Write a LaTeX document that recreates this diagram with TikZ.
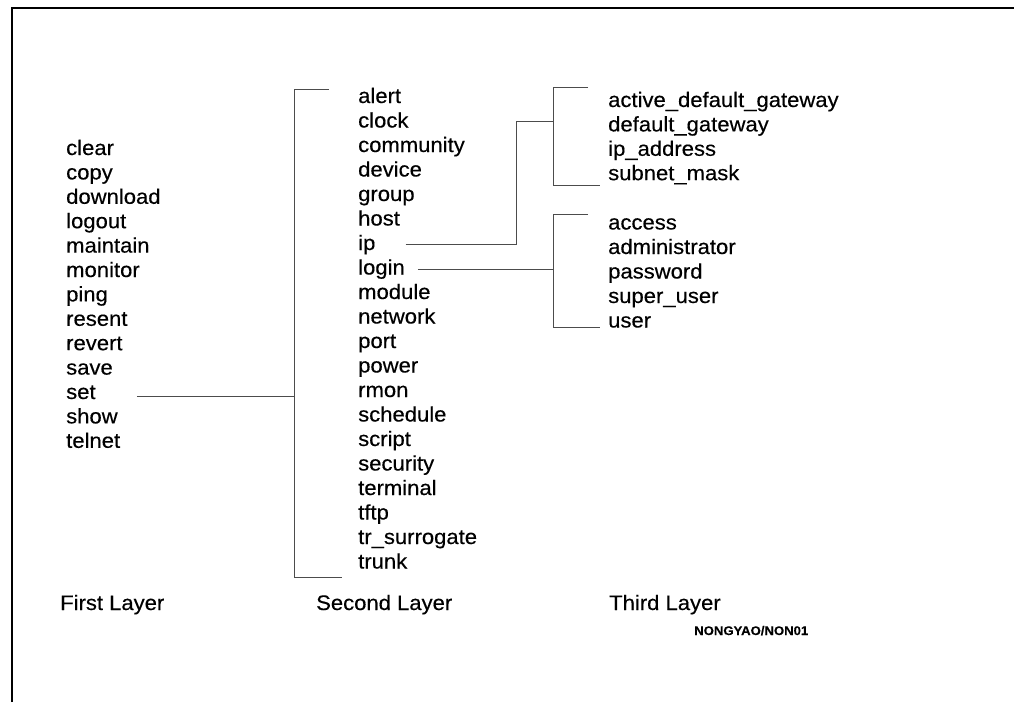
\documentclass[tikz,border=0pt]{standalone}
\usepackage{fontspec}
\setmainfont{Liberation Sans}[FakeStretch=1.05,FakeBold=0.35]
\begin{document}
\begin{tikzpicture}[x=1pt,y=-1pt,
  item/.style={anchor=base west,inner sep=0pt,font=\fontsize{21}{24}\selectfont},
  caption/.style={item},
  tag/.style={anchor=base west,inner sep=0pt,font=\fontsize{12.5}{14}\selectfont\bfseries},
  link/.style={draw=black!70,line width=0.8pt},
  frame/.style={draw=black,line width=1.6pt}]
\useasboundingbox (0,0) rectangle (1014,702);
% page frame (top and left edges)
\draw[frame] (12,702) -- (12,8) -- (1014,8);

% first layer
\foreach \n [count=\i from 0] in {clear,copy,download,logout,maintain,monitor,ping,resent,revert,save,set,show,telnet}
  \node[item] (f-\n) at (66,{155+24.4*\i}) {\n};

% second layer
\foreach \n/\t [count=\i from 0] in {alert/alert,clock/clock,community/community,device/device,group/group,host/host,ip/ip,login/login,module/module,network/network,port/port,power/power,rmon/rmon,schedule/schedule,script/script,security/security,terminal/terminal,tftp/tftp,trsurrogate/tr\_surrogate,trunk/trunk}
  \node[item] (s-\n) at (358,{103+24.5*\i}) {\t};

% third layer: ip subcommands
\foreach \n/\t [count=\i from 0] in {adg/active\_default\_gateway,dg/default\_gateway,ipa/ip\_address,sm/subnet\_mask}
  \node[item] (t-\n) at (608,{107+24.4*\i}) {\t};
% third layer: login subcommands
\foreach \n/\t [count=\i from 0] in {access/access,admin/administrator,password/password,su/super\_user,user/user}
  \node[item] (t-\n) at (608,{229.5+24.5*\i}) {\t};

% layer captions
\node[caption] (c1) at (60,610) {First Layer};
\node[caption] (c2) at (316,610) {Second Layer};
\node[caption] (c3) at (609,610) {Third Layer};
\node[tag] (id) at (694,635) {NONGYAO/NON01};

% bracket joints
\coordinate (b2t) at (294,89);
\coordinate (b2b) at (294,577);
\coordinate (b3at) at (553,87);
\coordinate (b3ab) at (553,185);
\coordinate (b3bt) at (553,214);
\coordinate (b3bb) at (553,327);

% set -> second layer
\draw[link] ([xshift=41pt,yshift=3pt]f-set.base east) -- ([yshift=3pt]f-set.base east -| b2t);
\draw[link] ([xshift=35pt]b2t) -- (b2t) -- (b2b) -- ([xshift=48pt]b2b);

% ip -> third layer
\draw[link] ([xshift=30pt,yshift=6pt]s-ip.base east) -- ++(111,0) |- (b3at |- 0,121);
\draw[link] ([xshift=35pt]b3at) -- (b3at) -- (b3ab) -- ([xshift=47pt]b3ab);

% login -> third layer
\draw[link] ([xshift=13pt,yshift=5.5pt]s-login.base east) -- ([yshift=5.5pt]s-login.base east -| b3bt);
\draw[link] ([xshift=35pt]b3bt) -- (b3bt) -- (b3bb) -- ([xshift=47pt]b3bb);
\end{tikzpicture}
\end{document}
